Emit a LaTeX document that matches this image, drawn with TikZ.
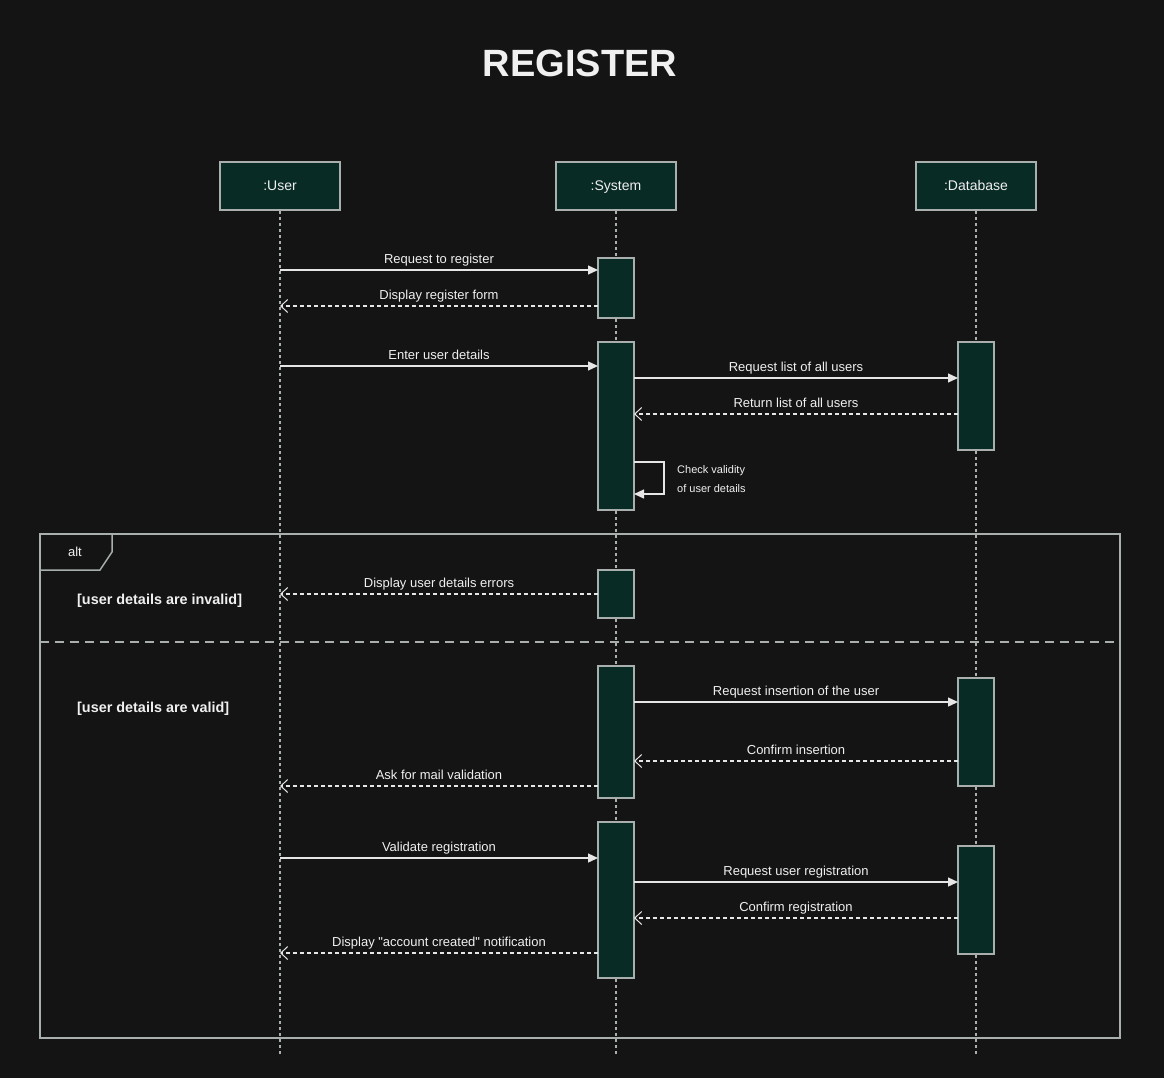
\documentclass[tikz,border=0pt]{standalone}
\usepackage{fontspec}
\setmainfont{Liberation Sans}[Ligatures=TeXOff]
\usetikzlibrary{arrows.meta}
\definecolor{bgc}{HTML}{141414}
\definecolor{boxfill}{HTML}{092B26}
\definecolor{boxline}{HTML}{A9AFAC}
\definecolor{linec}{HTML}{E6E6E6}
\definecolor{txt}{HTML}{F0F0F0}
\tikzset{
  head/.style={draw=boxline, fill=boxfill, line width=1.5pt, minimum width=120pt, minimum height=48pt, inner sep=0pt, text=txt, font=\fontsize{14}{16}\selectfont, text height=13pt, text depth=3pt},
  act/.style={draw=boxline, fill=boxfill, line width=1.5pt, minimum width=36pt, inner sep=0pt},
  life/.style={draw=boxline, line width=1.5pt, dash pattern=on 3pt off 3pt},
  call/.style={draw=linec, line width=1.3pt, -{Triangle[length=10pt,width=9pt]}},
  reply/.style={draw=linec, line width=1.3pt, dash pattern=on 4pt off 3pt, -{Straight Barb[length=7pt,width=13pt,line width=1pt]}},
  lbl/.style={text=txt, font=\fontsize{13}{15}\selectfont, anchor=base, inner sep=0pt, yshift=7pt},
  small/.style={text=txt, font=\fontsize{11}{13}\selectfont, anchor=west, inner sep=0pt},
  frame/.style={draw=boxline, line width=1.5pt},
  cond/.style={text=txt, font=\bfseries\fontsize{14.4}{16}\selectfont, anchor=west, inner sep=0pt},
}
\begin{document}
\begin{tikzpicture}[x=1pt,y=-1pt]
\fill[bgc] (0,0) rectangle (1164,1078);
\useasboundingbox (0,0) rectangle (1164,1078);

\node[text=txt, font=\bfseries\fontsize{38}{44}\selectfont, inner sep=0pt] (title) at (580,63) {REGISTER};

% lifeline heads
\node[head] (u) at (280,186) {:User};
\node[head] (s) at (616,186) {:System};
\node[head] (d) at (976,186) {:Database};

\coordinate (ue) at (280,1055);
\coordinate (se) at (616,1055);
\coordinate (de) at (976,1055);
\draw[life] (u.south) -- (ue);
\draw[life] (s.south) -- (se);
\draw[life] (d.south) -- (de);

% alt frame
\node[frame, minimum width=1080pt, minimum height=504pt, inner sep=0pt] (alt) at (580,786) {};
\coordinate (t1) at (112,534);
\coordinate (t2) at (112,552);
\coordinate (t3) at (100,570);
\coordinate (t4) at (40,570);
\draw[frame] (t1) -- (t2) -- (t3) -- (t4);
\node[text=txt, font=\fontsize{13}{15}\selectfont, inner sep=0pt] (altlbl) at (75,552) {alt};
\coordinate (dv1) at (40,642);
\coordinate (dv2) at (1120,642);
\draw[draw=boxline, line width=1.5pt, dash pattern=on 9pt off 6pt] (dv1) -- (dv2);
\node[cond] (c1) at (77,600.5) {[user details are invalid]};
\node[cond] (c2) at (77,708.5) {[user details are valid]};

% activations
\node[act, minimum height=60pt] (s1) at (616,288) {};
\node[act, minimum height=168pt] (s2) at (616,426) {};
\node[act, minimum height=48pt] (s3) at (616,594) {};
\node[act, minimum height=132pt] (s4) at (616,732) {};
\node[act, minimum height=156pt] (s5) at (616,900) {};
\node[act, minimum height=108pt] (d1) at (976,396) {};
\node[act, minimum height=108pt] (d2) at (976,732) {};
\node[act, minimum height=108pt] (d3) at (976,900) {};

% message end points
\coordinate (m1a) at (280,270); \coordinate (m1b) at (598,270);
\coordinate (m2a) at (598,306); \coordinate (m2b) at (280,306);
\coordinate (m3a) at (280,366); \coordinate (m3b) at (598,366);
\coordinate (m4a) at (634,378); \coordinate (m4b) at (958,378);
\coordinate (m5a) at (958,414); \coordinate (m5b) at (634,414);
\coordinate (sf1) at (634,462); \coordinate (sf2) at (664,462);
\coordinate (sf3) at (664,494); \coordinate (sf4) at (634,494);
\coordinate (m6a) at (598,594); \coordinate (m6b) at (280,594);
\coordinate (m7a) at (634,702); \coordinate (m7b) at (958,702);
\coordinate (m8a) at (958,761); \coordinate (m8b) at (634,761);
\coordinate (m9a) at (598,786); \coordinate (m9b) at (280,786);
\coordinate (m10a) at (280,858); \coordinate (m10b) at (598,858);
\coordinate (m11a) at (634,882); \coordinate (m11b) at (958,882);
\coordinate (m12a) at (958,918); \coordinate (m12b) at (634,918);
\coordinate (m13a) at (598,953); \coordinate (m13b) at (280,953);

\draw[call] (m1a) -- (m1b) node[midway, lbl] {Request to register};
\draw[reply] (m2a) -- (m2b) node[midway, lbl] {Display register form};
\draw[call] (m3a) -- (m3b) node[midway, lbl] {Enter user details};
\draw[call] (m4a) -- (m4b) node[midway, lbl] {Request list of all users};
\draw[reply] (m5a) -- (m5b) node[midway, lbl] {Return list of all users};
\draw[call] (sf1) -- (sf2) -- (sf3) -- (sf4);
\node[small] (ck1) at (677,470.5) {Check validity};
\node[small] (ck2) at (677,488.5) {of user details};
\draw[reply] (m6a) -- (m6b) node[midway, lbl] {Display user details errors};
\draw[call] (m7a) -- (m7b) node[midway, lbl] {Request insertion of the user};
\draw[reply] (m8a) -- (m8b) node[midway, lbl] {Confirm insertion};
\draw[reply] (m9a) -- (m9b) node[midway, lbl] {Ask for mail validation};
\draw[call] (m10a) -- (m10b) node[midway, lbl] {Validate registration};
\draw[call] (m11a) -- (m11b) node[midway, lbl] {Request user registration};
\draw[reply] (m12a) -- (m12b) node[midway, lbl] {Confirm registration};
\draw[reply] (m13a) -- (m13b) node[midway, lbl] {Display "account created" notification};
\end{tikzpicture}
\end{document}
